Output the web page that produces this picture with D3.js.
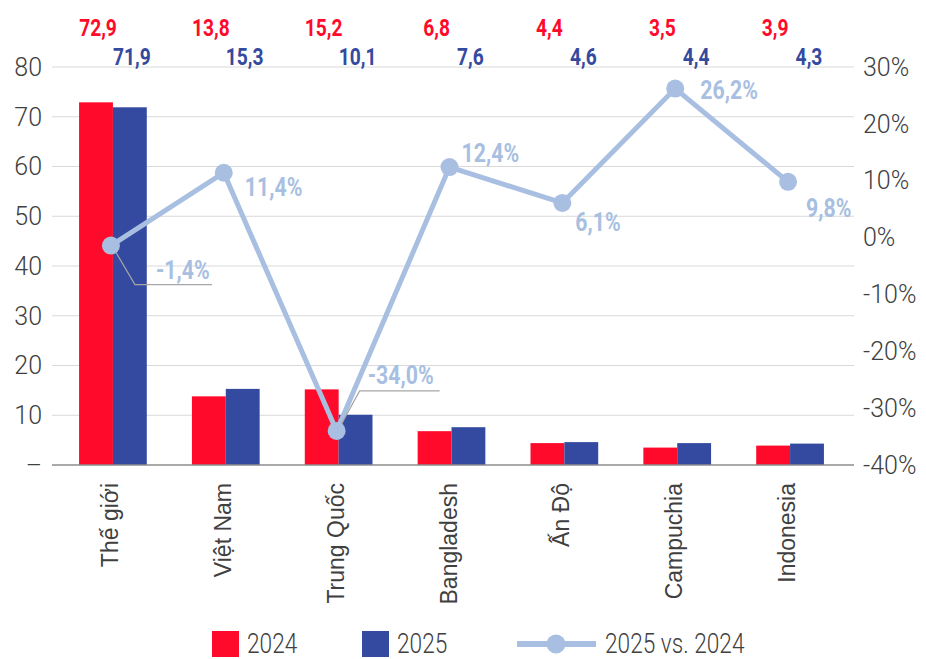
<!DOCTYPE html>
<html>
<head>
<meta charset="utf-8">
<script src="https://cdn.jsdelivr.net/npm/d3@7"></script>
<style>
  body { margin: 0; background: #fff; }
  svg { display: block; }
</style>
</head>
<body>
<div id="chart"></div>
<script>
// data
const categories = ["Thế giới", "Việt Nam", "Trung Quốc", "Bangladesh", "Ấn Độ", "Campuchia", "Indonesia"];
const values2024 = [72.9, 13.8, 15.2, 6.8, 4.4, 3.5, 3.9];
const values2025 = [71.9, 15.3, 10.1, 7.6, 4.6, 4.4, 4.3];
const change = [-0.014, 0.114, -0.34, 0.124, 0.061, 0.262, 0.098];
const leftTicks = [0, 10, 20, 30, 40, 50, 60, 70, 80];
const rightTicks = [-0.4, -0.3, -0.2, -0.1, 0, 0.1, 0.2, 0.3];

// where the % labels sit relative to their point (baseline), and the leader elbows
const lineLabelPos = [
  { dx: 45, dy: 33, leader: [24, 39, 101] },
  { dx: 21, dy: 23 },
  { dx: 31, dy: -47, leader: [23, -40, 103] },
  { dx: 12, dy: -5 },
  { dx: 13, dy: 28 },
  { dx: 25, dy: 10 },
  { dx: 18, dy: 35 }
];

const red = "#ff0a2b", blue = "#344aa0", lineCol = "#a8bfe1";
const width = 926, height = 659;

const svg = d3.select("#chart").append("svg")
  .attr("width", width)
  .attr("height", height);

const x = d3.scaleBand().domain(categories).range([56.5, 846.5])
  .paddingInner(0.4).paddingOuter(0.2);
const x1 = d3.scaleBand().domain(["2024", "2025"]).range([0, x.bandwidth()]);
const yL = d3.scaleLinear().domain([0, 80]).range([465, 67]);
const yR = d3.scaleLinear().domain([-0.4, 0.3]).range([465, 67]);

// gridlines
svg.append("g").selectAll("line")
  .data(leftTicks.filter(d => d > 0))
  .enter().append("line")
  .attr("x1", 52).attr("x2", 854)
  .attr("y1", d => yL(d)).attr("y2", d => yL(d))
  .attr("stroke", "#d9d9d9").attr("stroke-width", 1.2);

// left axis labels
svg.append("g").selectAll("text")
  .data(leftTicks)
  .enter().append("text")
  .attr("x", 42).attr("y", d => yL(d))
  .attr("dy", "0.35em")
  .attr("text-anchor", "end")
  .attr("font-family", "Roboto").attr("font-weight", 300)
  .attr("font-size", 25).attr("fill", "#404040")
  .text(d => d === 0 ? "–" : d);

// right axis labels
svg.append("g").selectAll("text")
  .data(rightTicks)
  .enter().append("text")
  .attr("x", 863).attr("y", d => yR(d))
  .attr("dy", "0.35em")
  .attr("font-family", "Roboto").attr("font-weight", 300)
  .attr("font-size", 25).attr("fill", "#404040")
  .text(d => Math.round(d * 100) + "%");

// bars
const groups = svg.append("g").selectAll("g")
  .data(categories)
  .enter().append("g")
  .attr("transform", d => "translate(" + x(d) + ",0)");

groups.append("rect")
  .attr("x", x1("2024")).attr("width", x1.bandwidth())
  .attr("y", (d, i) => yL(values2024[i]))
  .attr("height", (d, i) => yL(0) - yL(values2024[i]))
  .attr("fill", red);

groups.append("rect")
  .attr("x", x1("2025")).attr("width", x1.bandwidth())
  .attr("y", (d, i) => yL(values2025[i]))
  .attr("height", (d, i) => yL(0) - yL(values2025[i]))
  .attr("fill", blue);

// baseline
svg.append("line")
  .attr("x1", 52).attr("x2", 854)
  .attr("y1", yL(0)).attr("y2", yL(0))
  .attr("stroke", "#8c8c8c").attr("stroke-width", 1.5);

const fmt = v => v.toFixed(1).replace(".", ",");

function condensed(sel, tx, ty, s) {
  sel.attr("transform", (d, i) => "translate(" + tx(d, i) + "," + ty(d, i) + ") scale(" + (s || 0.8) + ",1)");
}

// value labels on top
svg.append("g").selectAll("text")
  .data(categories)
  .enter().append("text")
  .attr("text-anchor", "middle")
  .attr("font-family", "Roboto").attr("font-weight", 700)
  .attr("font-size", 24).attr("fill", red)
  .call(condensed, d => x(d) + x1("2024") + x1.bandwidth() / 2 + 2, () => 36)
  .text((d, i) => fmt(values2024[i]));

svg.append("g").selectAll("text")
  .data(categories)
  .enter().append("text")
  .attr("text-anchor", "middle")
  .attr("font-family", "Roboto").attr("font-weight", 700)
  .attr("font-size", 24).attr("fill", blue)
  .call(condensed, d => x(d) + x1("2025") + x1.bandwidth() / 2 + 2, () => 65)
  .text((d, i) => fmt(values2025[i]));

// line series
const cx = d => x(d) + x.bandwidth() / 2 - 2;
const line = d3.line()
  .x(d => cx(d))
  .y((d, i) => yR(change[i]));

svg.append("path")
  .datum(categories)
  .attr("d", line)
  .attr("fill", "none")
  .attr("stroke", lineCol)
  .attr("stroke-width", 5);

// leader lines
svg.append("g").selectAll("polyline")
  .data(categories.filter((d, i) => lineLabelPos[i].leader))
  .enter().append("polyline")
  .attr("points", d => {
    const i = categories.indexOf(d);
    const px = cx(d), py = yR(change[i]);
    const l = lineLabelPos[i].leader;
    return [[px + 1, py], [px + l[0], py + l[1]], [px + l[2], py + l[1]]].map(q => q.join(",")).join(" ");
  })
  .attr("fill", "none")
  .attr("stroke", "#a6a6a6")
  .attr("stroke-width", 1.2);

svg.append("g").selectAll("circle")
  .data(categories)
  .enter().append("circle")
  .attr("cx", d => cx(d))
  .attr("cy", (d, i) => yR(change[i]))
  .attr("r", 9)
  .attr("fill", lineCol);

// line labels
svg.append("g").selectAll("text")
  .data(categories)
  .enter().append("text")
  .attr("font-family", "Roboto").attr("font-weight", 700)
  .attr("font-size", 26).attr("fill", lineCol)
  .call(condensed, (d, i) => cx(d) + lineLabelPos[i].dx, (d, i) => yR(change[i]) + lineLabelPos[i].dy, 0.82)
  .text((d, i) => fmt(change[i] * 100) + "%");

// category labels
svg.append("g").selectAll("text")
  .data(categories)
  .enter().append("text")
  .attr("transform", d => "translate(" + (x(d) + x.bandwidth() / 2 + 5) + ",483) rotate(-90)")
  .attr("text-anchor", "end")
  .attr("font-family", "Liberation Sans, Arial, sans-serif")
  .attr("font-size", 23).attr("fill", "#404040")
  .text(d => d);

// legend
const legend = svg.append("g");
legend.append("rect").attr("x", 212).attr("y", 631).attr("width", 27).attr("height", 26).attr("fill", red);
legend.append("rect").attr("x", 362).attr("y", 631).attr("width", 27).attr("height", 26).attr("fill", blue);
legend.append("line").attr("x1", 517).attr("x2", 596).attr("y1", 644).attr("y2", 644)
  .attr("stroke", lineCol).attr("stroke-width", 6);
legend.append("circle").attr("cx", 556).attr("cy", 644).attr("r", 9.5).attr("fill", lineCol);

const legendText = [["2024", 247], ["2025", 397], ["2025 vs. 2024", 605]];
legend.selectAll("text")
  .data(legendText)
  .enter().append("text")
  .attr("font-family", "Roboto").attr("font-weight", 300)
  .attr("font-size", 27).attr("fill", "#404040")
  .attr("transform", d => "translate(" + d[1] + ",653) scale(0.84,1)")
  .text(d => d[0]);
</script>
</body>
</html>
